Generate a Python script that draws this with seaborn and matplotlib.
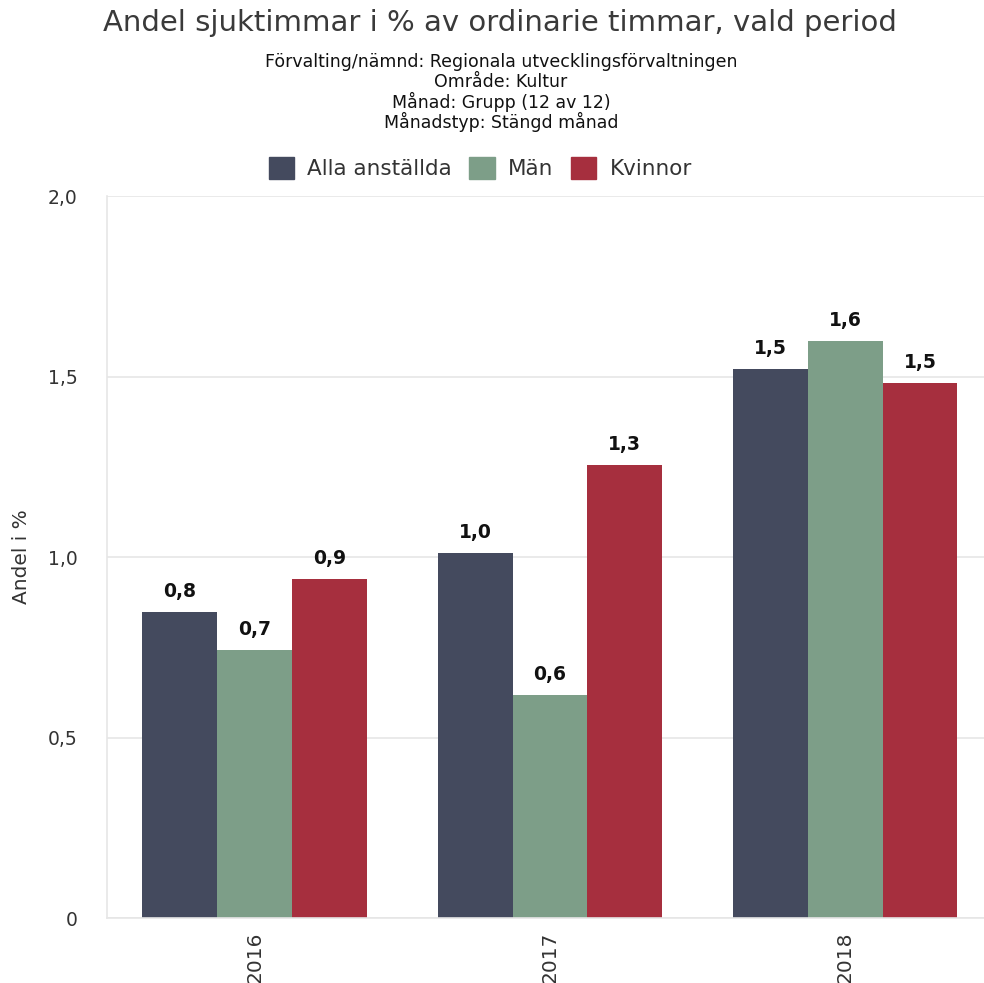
import pandas as pd
import numpy as np
import seaborn as sns
import matplotlib
matplotlib.use("Agg")
import matplotlib.pyplot as plt

# values
years = ["2016", "2017", "2018"]
groups = ["Alla anställda", "Män", "Kvinnor"]
alla = [0.848, 1.011, 1.521]
man = [0.742, 0.618, 1.598]
kvinnor = [0.939, 1.255, 1.482]
yticks = [0, 0.5, 1.0, 1.5, 2.0]
ytick_labels = ["0", "0,5", "1,0", "1,5", "2,0"]
colors = ["#444a5e", "#7d9e88", "#a62f3e"]

df = pd.DataFrame({
    "year": years * 3,
    "group": [g for g in groups for _ in years],
    "value": alla + man + kvinnor,
})

sns.set_style("white")
plt.rcParams["font.family"] = ["DejaVu Sans"]

fig = plt.figure(figsize=(9.84, 9.83), dpi=100)
ax = fig.add_axes([0.1087, 0.0661, 0.8913, 0.7345])

sns.barplot(data=df, x="year", y="value", hue="group", hue_order=groups,
            palette=colors, width=0.76, saturation=1, linewidth=0, ax=ax, legend=False)

for cont in ax.containers:
    labels = [f"{b.get_height():.1f}".replace(".", ",") for b in cont]
    ax.bar_label(cont, labels=labels, padding=8, fontsize=13.5, fontweight="bold", color="#111111")

ax.set_ylim(0, 2.0)
ax.set_xlim(-0.5, 2.47)
ax.set_yticks(yticks)
ax.set_yticklabels(ytick_labels, fontsize=13.5, color="#333333")
ax.tick_params(axis="x", labelrotation=90, labelsize=14.5, colors="#333333", length=0, pad=10)
ax.tick_params(axis="y", length=15, color="#e6e6e6", width=1.2, pad=6)
ax.yaxis.grid(True, color="#e6e6e6", linewidth=1.2)
ax.set_axisbelow(True)
for s in ["top", "right"]:
    ax.spines[s].set_visible(False)
for s in ["left", "bottom"]:
    ax.spines[s].set_color("#e6e6e6")
    ax.spines[s].set_linewidth(1.2)
ax.set_xlabel("")
ax.set_ylabel("Andel i %", fontsize=14.5, color="#333333", labelpad=12)

fig.text(0.508, 0.977, "Andel sjuktimmar i % av ordinarie timmar, vald period",
         ha="center", va="center", fontsize=21, color="#3a3a3a")
subtitle = ["Förvalting/nämnd: Regionala utvecklingsförvaltningen", "Område: Kultur",
            "Månad: Grupp (12 av 12)", "Månadstyp: Stängd månad"]
for i, line in enumerate(subtitle):
    fig.text(0.509, 0.937 - i * 0.0205, line, ha="center", va="center", fontsize=12.5, color="#111111")

handles = [plt.Rectangle((0, 0), 1, 1, color=c) for c in colors]
fig.legend(handles, groups, loc="center", bbox_to_anchor=(0.488, 0.829), ncol=3, frameon=False,
           fontsize=15.5, handlelength=1.2, handleheight=1.2, handletextpad=0.6, columnspacing=0.8,
           labelcolor="#333333")

plt.savefig("out.png", dpi=100)
